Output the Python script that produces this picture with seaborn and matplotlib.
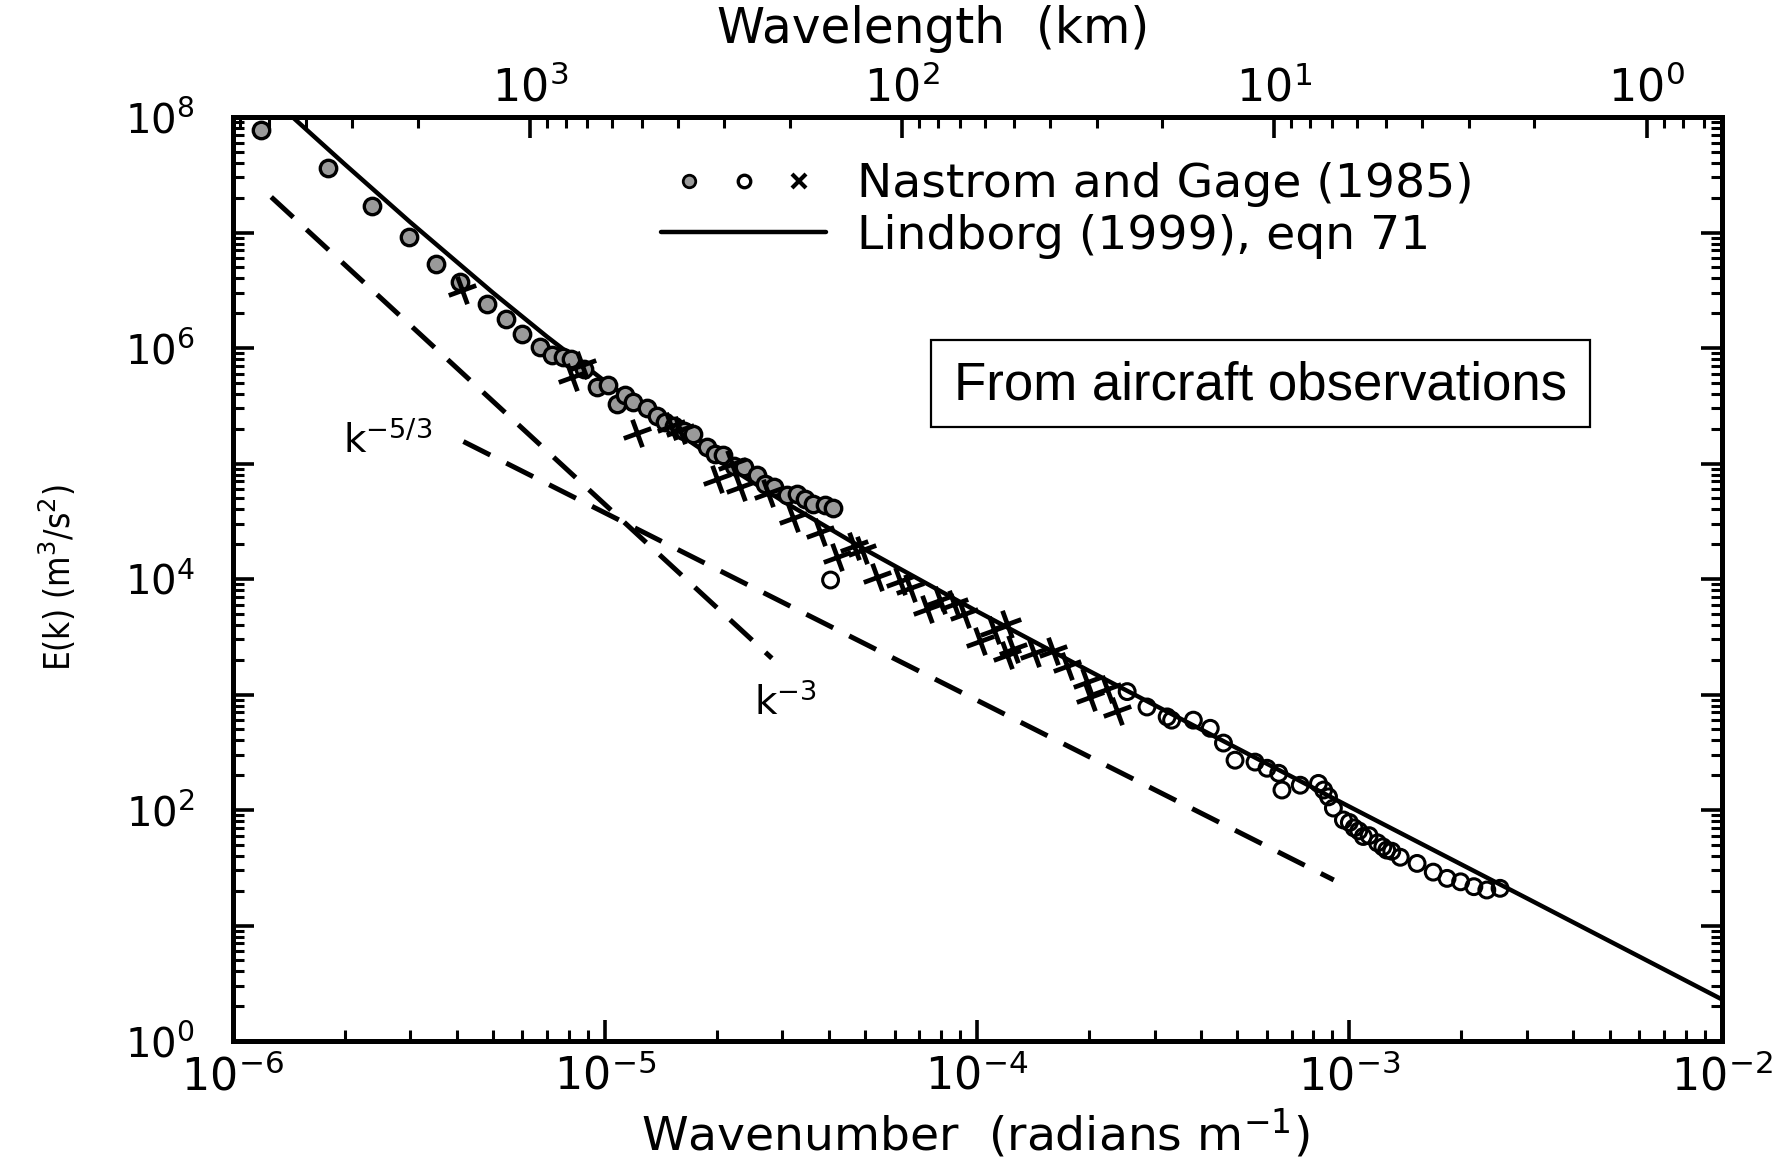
import numpy as np
import matplotlib
matplotlib.use("Agg")
import matplotlib.pyplot as plt
import seaborn as sns
from matplotlib.lines import Line2D
from matplotlib.legend_handler import HandlerTuple
from matplotlib.patches import Rectangle
from matplotlib.markers import MarkerStyle
from matplotlib.transforms import Affine2D
from matplotlib.ticker import FixedLocator, LogLocator, NullFormatter

# ---------------- data ----------------
# Nastrom & Gage (1985): grey filled circles (large scales)
gray_k = [1.19e-6, 1.80e-6, 2.37e-6, 2.97e-6, 3.52e-6, 4.09e-6, 4.83e-6, 5.41e-6,
          6.0e-6, 6.7e-6, 7.2e-6, 7.7e-6, 8.1e-6, 8.8e-6, 9.5e-6, 1.02e-5, 1.08e-5,
          1.13e-5, 1.19e-5, 1.30e-5, 1.38e-5, 1.45e-5, 1.53e-5, 1.63e-5, 1.73e-5,
          1.88e-5, 1.98e-5, 2.08e-5, 2.22e-5, 2.36e-5, 2.56e-5, 2.70e-5, 2.84e-5,
          3.08e-5, 3.28e-5, 3.45e-5, 3.63e-5, 3.91e-5, 4.11e-5]
gray_E = [7.7e7, 3.6e7, 1.7e7, 9.1e6, 5.3e6, 3.7e6, 2.4e6, 1.8e6,
          1.33e6, 1.03e6, 8.7e5, 8.4e5, 8.1e5, 6.6e5, 4.6e5, 4.8e5, 3.3e5,
          3.9e5, 3.4e5, 3.0e5, 2.6e5, 2.3e5, 2.1e5, 1.9e5, 1.8e5,
          1.4e5, 1.2e5, 1.19e5, 9.5e4, 9.4e4, 7.9e4, 6.6e4, 6.3e4,
          5.3e4, 5.5e4, 4.9e4, 4.5e4, 4.4e4, 4.1e4]

# Nastrom & Gage (1985): open circles (small scales)
open_k = [4.04e-5, 2.53e-4, 2.86e-4, 3.24e-4, 3.33e-4, 3.81e-4, 4.23e-4, 4.59e-4,
          4.93e-4, 5.58e-4, 6.01e-4, 6.46e-4, 6.59e-4, 7.38e-4, 8.26e-4, 8.53e-4,
          8.79e-4, 9.06e-4, 9.64e-4, 1.00e-3, 1.03e-3, 1.06e-3, 1.09e-3, 1.13e-3,
          1.19e-3, 1.23e-3, 1.26e-3, 1.30e-3, 1.37e-3, 1.52e-3, 1.68e-3, 1.83e-3,
          1.99e-3, 2.16e-3, 2.34e-3, 2.54e-3]
open_E = [9.8e3, 1.06e3, 7.8e2, 6.4e2, 6.0e2, 6.0e2, 5.1e2, 3.8e2,
          2.7e2, 2.6e2, 2.3e2, 2.08e2, 1.49e2, 1.64e2, 1.70e2, 1.49e2,
          1.30e2, 1.04e2, 82, 78, 70, 66, 59, 60,
          52, 48, 45, 44, 39, 34.5, 29, 25.6,
          23.9, 21.7, 20.3, 21.0]

# Nastrom & Gage (1985): crosses
cross_k = [4.14e-6, 8.15e-6, 8.7e-6, 1.22e-5, 1.51e-5, 1.59e-5, 2.0e-5, 2.19e-5,
           2.31e-5, 2.75e-5, 3.21e-5, 3.78e-5, 4.2e-5, 4.66e-5, 4.91e-5, 5.38e-5,
           6.21e-5, 6.61e-5, 7.33e-5, 7.96e-5, 8.65e-5, 9.2e-5, 1.02e-4, 1.11e-4,
           1.20e-4, 1.25e-4, 1.20e-4, 1.42e-4, 1.60e-4, 1.74e-4, 1.97e-4, 2.01e-4,
           2.23e-4, 2.38e-4]
cross_E = [3.2e6, 5.6e5, 7.1e5, 1.82e5, 2.1e5, 1.95e5, 7.4e4, 1.0e5,
           6.3e4, 5.6e4, 3.35e4, 2.57e4, 1.56e4, 1.95e4, 1.8e4, 1.05e4,
           9.6e3, 8.4e3, 5.5e3, 6.6e3, 6.1e3, 5.0e3, 2.9e3, 3.6e3,
           4.1e3, 2.5e3, 2.2e3, 2.3e3, 2.4e3, 1.75e3, 1.28e3, 9.6e2,
           1.12e3, 7.2e2]

# Lindborg (1999), eqn 71 (solid curve)
lind_k = [1.3e-6, 2e-6, 3e-6, 5e-6, 7e-6, 1e-5, 1.5e-5, 2e-5, 3e-5, 5e-5,
          1e-4, 2e-4, 5e-4, 1e-3, 3e-3, 1e-2]
lind_E = [1.37e8, 3.91e7, 1.23e7, 3.02e6, 1.25e6, 5.16e5, 2.02e5, 1.08e5, 4.75e4, 1.80e4,
          5.25e3, 1.60e3, 3.42e2, 1.07e2, 17.2, 2.30]

# reference slopes (dashed)
km3_k = [1.27e-6, 2.81e-5]
km3_E = [2.03e7, 2.06e3]
km53_k = [4.17e-6, 9.08e-4]
km53_E = [1.55e5, 24.8]

# ticks
x_ticks = [1e-6, 1e-5, 1e-4, 1e-3, 1e-2]
x_labels = [r'$10^{-6}$', r'$10^{-5}$', r'$10^{-4}$', r'$10^{-3}$', r'$10^{-2}$']
y_ticks = [1e0, 1e1, 1e2, 1e3, 1e4, 1e5, 1e6, 1e7, 1e8]
y_labels = [r'$10^{0}$', '', r'$10^{2}$', '', r'$10^{4}$', '', r'$10^{6}$', '', r'$10^{8}$']
lam_ticks = [1e3, 1e2, 1e1, 1e0]
lam_labels = [r'$10^{3}$', r'$10^{2}$', r'$10^{1}$', r'$10^{0}$']

legend_labels = ['Nastrom and Gage (1985)', 'Lindborg (1999), eqn 71']

# ---------------- style ----------------
sns.set_theme(style="ticks")
plt.rcParams['font.family'] = ['DejaVu Sans']
plt.rcParams['mathtext.fontset'] = 'dejavusans'
plt.rcParams['axes.edgecolor'] = 'black'
plt.rcParams['xtick.color'] = 'black'
plt.rcParams['ytick.color'] = 'black'
plt.rcParams['text.color'] = 'black'
plt.rcParams['axes.labelcolor'] = 'black'

fig = plt.figure(figsize=(17.78, 11.62), dpi=100)
fig.patch.set_facecolor('white')
ax = fig.add_axes([0.1308, 0.1041, 0.8375, 0.7952])
ax.set_xscale('log')
ax.set_yscale('log')

# dashed reference slopes
sns.lineplot(x=km3_k, y=km3_E, ax=ax, color='black', lw=3.6,
             linestyle=(0, (6, 3.6)), zorder=2)
sns.lineplot(x=km53_k, y=km53_E, ax=ax, color='black', lw=3.6,
             linestyle=(0, (6, 3.6)), zorder=2)

# Lindborg curve
sns.lineplot(x=lind_k, y=lind_E, ax=ax, color='black', lw=3.2, zorder=3)

# observations
sns.scatterplot(x=gray_k, y=gray_E, ax=ax, marker='o', s=140, color='#9a9a9a',
                edgecolor='black', linewidth=2.4, zorder=4, legend=False)
sns.scatterplot(x=open_k, y=open_E, ax=ax, marker='o', s=130, color='white',
                edgecolor='black', linewidth=2.2, zorder=4, legend=False)
ax.collections[-1].set_facecolor('none')
cross_marker = MarkerStyle('+', transform=Affine2D().rotate_deg(20))
sns.scatterplot(x=cross_k, y=cross_E, ax=ax, marker=cross_marker, s=440,
                color='black', linewidth=3.4, zorder=4, legend=False)

ax.set_xlim(1e-6, 1e-2)
ax.set_ylim(1, 1e8)

# ticks
ax.xaxis.set_major_locator(FixedLocator(x_ticks))
ax.set_xticklabels(x_labels)
ax.xaxis.set_minor_locator(LogLocator(base=10, subs=np.arange(2, 10), numticks=50))
ax.xaxis.set_minor_formatter(NullFormatter())
ax.yaxis.set_major_locator(FixedLocator(y_ticks))
ax.set_yticklabels(y_labels)
ax.yaxis.set_minor_locator(LogLocator(base=10, subs=np.arange(2, 10), numticks=50))
ax.yaxis.set_minor_formatter(NullFormatter())

ax.tick_params(which='major', direction='in', length=15, width=2.6)
ax.tick_params(which='minor', direction='in', length=8, width=2.2)
ax.tick_params(axis='y', which='both', left=True, right=True)
ax.tick_params(axis='x', which='both', bottom=True, top=False)
ax.tick_params(axis='x', labelsize=32, pad=10)
ax.tick_params(axis='y', labelsize=29, pad=27)
for sp in ax.spines.values():
    sp.set_linewidth(3.6)
    sp.set_color('black')


# top axis: wavelength in km
def k_to_lam(k):
    k = np.asarray(k, dtype=float)
    with np.errstate(divide='ignore', invalid='ignore'):
        return 2 * np.pi / k / 1000.0


def lam_to_k(lam):
    lam = np.asarray(lam, dtype=float)
    with np.errstate(divide='ignore', invalid='ignore'):
        return 2 * np.pi / (lam * 1000.0)


sec = ax.secondary_xaxis('top', functions=(k_to_lam, lam_to_k))
sec.set_xticks(lam_ticks)
sec.set_xticklabels(lam_labels)
sec.xaxis.set_minor_locator(LogLocator(base=10, subs=np.arange(2, 10), numticks=50))
sec.xaxis.set_minor_formatter(NullFormatter())
sec.tick_params(which='major', direction='in', length=15, width=2.6, labelsize=32, pad=5)
sec.tick_params(which='minor', direction='in', length=8, width=2.2)
sec.spines['top'].set_linewidth(3.6)
sec.set_xlabel('Wavelength  (km)', fontsize=35, labelpad=16)
sec.xaxis.label.set_x(0.4705)

# axis labels
ax.set_xlabel('Wavenumber  (radians m$^{-1}$)', fontsize=34, labelpad=5)
ax.xaxis.label.set_x(0.4987)
ax.set_ylabel('E(k) (m$^3$/s$^2$)', fontsize=25, labelpad=34, fontstretch='condensed')
ax.yaxis.label.set_y(0.501)

# slope labels
ax.text(1.98e-6, 1.23e5, r'k$^{-5/3}$', fontsize=28, ha='left', va='baseline', zorder=6)
ax.text(2.51e-5, 6.6e2, r'k$^{-3}$', fontsize=28, ha='left', va='baseline', zorder=6)

# boxed note
ax.add_patch(Rectangle((0.4691, 0.664), 0.4426, 0.0947, transform=ax.transAxes,
                       facecolor='white', edgecolor='black', lw=1.6, zorder=5))
ax.text(0.690, 0.7093, 'From aircraft observations', transform=ax.transAxes,
        ha='center', va='center', fontsize=38, family=['Liberation Sans', 'DejaVu Sans'],
        zorder=6)

# legend
h_gray = Line2D([], [], ls='none', marker='o', ms=9, mfc='#9a9a9a', mec='black', mew=2)
h_open = Line2D([], [], ls='none', marker='o', ms=9, mfc='none', mec='black', mew=2.4)
h_x = Line2D([], [], ls='none', marker='x', ms=10, mec='black', mew=3)
h_line = Line2D([], [], color='black', lw=3.2)
ax.legend([(h_gray, h_open, h_x), h_line], legend_labels,
          handler_map={tuple: HandlerTuple(ndivide=None, pad=0.0)},
          loc='upper left', bbox_to_anchor=(0.2878, 0.951), frameon=False,
          fontsize=34, handlelength=3.5, handletextpad=0.65, labelspacing=0.14,
          borderpad=0, borderaxespad=0)

fig.savefig('out.png', dpi=100, facecolor='white')
